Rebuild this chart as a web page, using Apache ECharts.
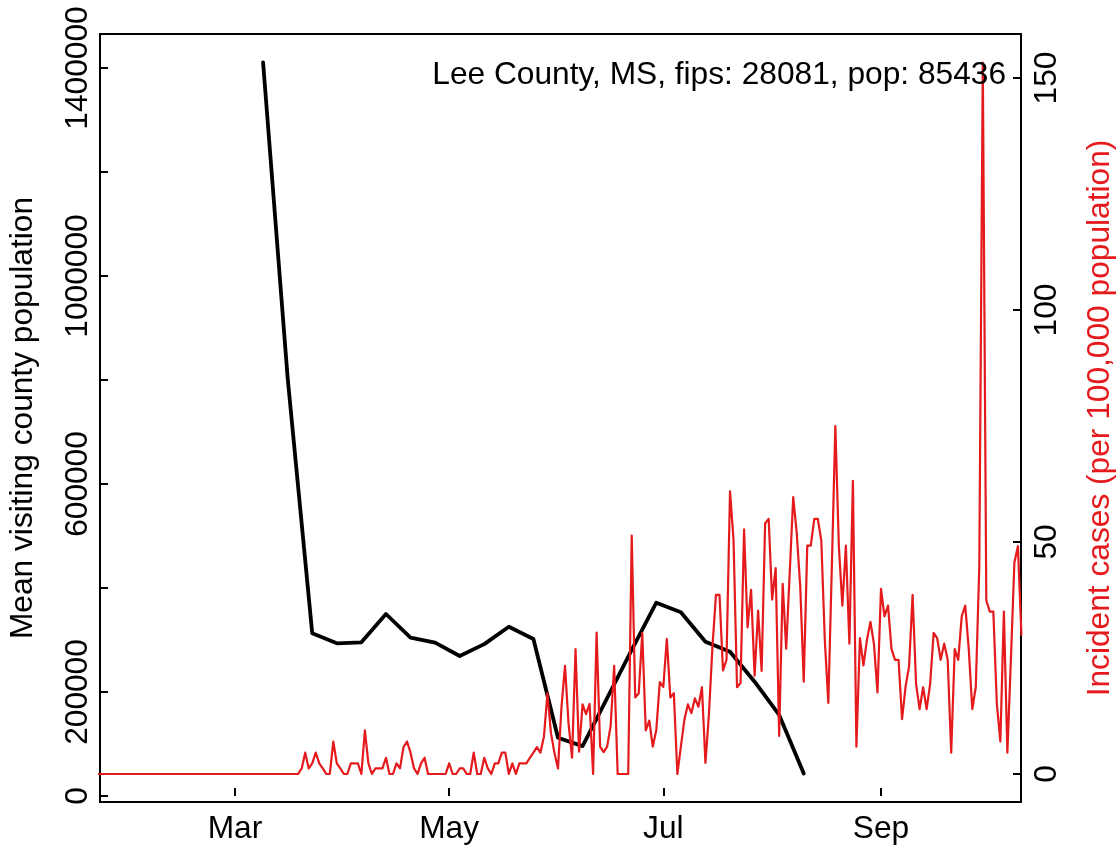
<!DOCTYPE html>
<html>
<head>
<meta charset="utf-8">
<script src="https://cdn.jsdelivr.net/npm/echarts@6/dist/echarts.min.js"></script>
<style>
html,body{margin:0;padding:0;background:#fff;}
#chart{width:1119px;height:851px;}
</style>
</head>
<body>
<div id="chart"></div>
<script>
// ---- data (x = day of year 2020, Jan 1 = 0) ----
const monthTickDays = [60, 121, 182, 244];
const monthTickLabels = ['Mar', 'May', 'Jul', 'Sep'];

const leftTickValues = [0, 200000, 400000, 600000, 800000, 1000000, 1200000, 1400000];
const leftLabelValues = [0, 200000, 600000, 1000000, 1400000];
const rightTickValues = [0, 50, 100, 150];

// weekly mean visiting county population (first point day 68, then every 7 days)
const mobilityStartDay = 68;
const mobilityStepDays = 7;
const meanVisitingPop = [1410700, 804000, 312900, 293700, 295600, 350000, 304400, 294800,
  269200, 292000, 325600, 301900, 112000, 96000, 188000, 281000, 371800, 353300, 296800,
  277500, 219800, 155800, 43200];

// daily incident cases per 100,000 (first value day 21)
const casesStartDay = 21;
const incidentCases = [
  0,0,0,0,0,0,0,0,0,0, 0,0,0,0,0,0,0,0,0,0,
  0,0,0,0,0,0,0,0,0,0, 0,0,0,0,0,0,0,0,0,0,
  0,0,0,0,0,0,0,0,0,0, 0,0,0,0,0,0,0,0,
  1.2, 4.6, 1.2, 2.3, 4.6, 2.3, 1.2, 0, 0, 7.0,
  2.3, 1.2, 0, 0, 2.3, 2.3, 2.3, 0, 9.4, 2.3,
  0, 1.2, 1.2, 1.2, 3.5, 0, 0, 2.3, 1.2, 5.8,
  7.0, 4.6, 1.2, 0, 2.3, 3.5, 0, 0, 0, 0,
  0, 0, 2.3, 0, 0, 1.2, 1.2, 0, 0, 4.6,
  0, 0, 3.5, 1.2, 0, 2.3, 2.3, 4.6, 4.6, 0,
  2.3, 0, 2.3, 2.3, 2.3, 3.5, 4.6, 5.8, 4.6, 8.1,
  17.4, 8.8, 4.5, 1.2, 14.5, 23.3, 10.9, 3.5, 26.9, 4.8,
  15.0, 12.9, 15.1, 0, 30.5, 5.9, 4.7, 5.9, 10.4, 23.3,
  0, 0, 0, 0, 51.4, 16.5, 17.4, 30.4, 9.4, 11.5,
  5.9, 9.5, 19.8, 18.8, 29.1, 16.5, 17.4, 0, 5.9, 11.7,
  15.0, 13.1, 16.3, 14.5, 18.7, 2.4, 13.0, 27.5, 38.6, 38.6,
  22.3, 24.6, 60.9, 50.5, 18.7, 19.6, 52.7, 31.6, 39.7, 21.2,
  35.2, 22.2, 54.0, 55.0, 37.6, 44.4, 8.2, 41.0, 27.0, 43.3,
  59.7, 51.9, 40.4, 19.9, 49.2, 49.2, 55.0, 55.0, 50.3, 28.9,
  15.3, 44.7, 75.0, 49.1, 36.3, 49.2, 28.1, 63.2, 5.9, 29.3,
  23.4, 28.9, 32.8, 28.0, 17.6, 39.9, 34.0, 36.3, 26.9, 24.6,
  24.6, 11.8, 18.8, 23.2, 38.6, 19.4, 14.0, 18.7, 14.0, 19.4,
  30.4, 29.3, 24.6, 28.1, 24.6, 4.6, 26.9, 24.6, 34.0, 36.3,
  26.9, 14.0, 18.7, 44.7, 153.3, 37.4, 35.0, 35.0, 15.1, 7.0,
  35.0, 4.6, 24.6, 45.6, 49.1, 30.0
];

const titleText = 'Lee County, MS, fips: 28081, pop: 85436';
const leftAxisTitle = 'Mean visiting county population';
const rightAxisTitle = 'Incident cases (per 100,000 population)';

// ---- chart ----
const FONT = '"Liberation Sans", Arial, Helvetica, sans-serif';
const FS = 31.7;
const RED = '#e41a1c';

const blackData = meanVisitingPop.map((v, i) => [mobilityStartDay + i * mobilityStepDays, v]);
const redData = incidentCases.map((v, i) => [casesStartDay + i, v]);

const chart = echarts.init(document.getElementById('chart'), null, {renderer: 'canvas'});

const tickStyle = {show: true, inside: true, length: 8, lineStyle: {color: '#000', width: 2}};

chart.setOption({
  animation: false,
  backgroundColor: '#fff',
  grid: {left: 100, right: 98, top: 34, bottom: 49, show: true,
         borderColor: '#000', borderWidth: 2, backgroundColor: 'transparent'},
  xAxis: {
    type: 'value', min: 21.55, max: 283.88,
    axisLine: {show: false}, splitLine: {show: false},
    axisTick: Object.assign({}, tickStyle, {customValues: monthTickDays}),
    axisLabel: {customValues: monthTickDays, color: '#000', fontFamily: FONT, fontSize: FS, margin: 11,
      formatter: v => monthTickLabels[monthTickDays.indexOf(v)] || ''}
  },
  yAxis: [{
    type: 'value', position: 'left', min: -11538, max: 1465385,
    axisLine: {show: false}, splitLine: {show: false},
    axisTick: Object.assign({}, tickStyle, {customValues: leftTickValues}),
    axisLabel: {customValues: leftLabelValues, rotate: 90, color: '#000', fontFamily: FONT,
      fontSize: FS, margin: 6, formatter: v => String(v)}
  }, {
    type: 'value', position: 'right', min: -6.034, max: 159.48,
    axisLine: {show: false}, splitLine: {show: false},
    axisTick: Object.assign({}, tickStyle, {customValues: rightTickValues}),
    axisLabel: {customValues: rightTickValues, rotate: 90, color: '#000', fontFamily: FONT,
      fontSize: FS, margin: 10, formatter: v => String(v)}
  }],
  series: [{
    type: 'line', yAxisIndex: 0, data: blackData, symbol: 'none', clip: true,
    lineStyle: {color: '#000', width: 3.8, cap: 'round', join: 'round'}, z: 3
  }, {
    type: 'line', yAxisIndex: 1, data: redData, symbol: 'none', clip: true,
    lineStyle: {color: RED, width: 2.2, cap: 'round', join: 'round'}, z: 4
  }],
  graphic: [{
    type: 'text', x: 1006, y: 75, z: 10,
    style: {text: titleText, font: FS + 'px ' + FONT, fill: '#000',
      align: 'right', textAlign: 'right', verticalAlign: 'middle', textVerticalAlign: 'middle'}
  }, {
    type: 'text', x: 23, y: 418, rotation: Math.PI / 2, z: 10,
    style: {text: leftAxisTitle, font: FS + 'px ' + FONT, fill: '#000',
      align: 'center', textAlign: 'center', verticalAlign: 'middle', textVerticalAlign: 'middle'}
  }, {
    type: 'text', x: 1100, y: 418, rotation: Math.PI / 2, z: 10,
    style: {text: rightAxisTitle, font: FS + 'px ' + FONT, fill: RED,
      align: 'center', textAlign: 'center', verticalAlign: 'middle', textVerticalAlign: 'middle'}
  }]
});
</script>
</body>
</html>
